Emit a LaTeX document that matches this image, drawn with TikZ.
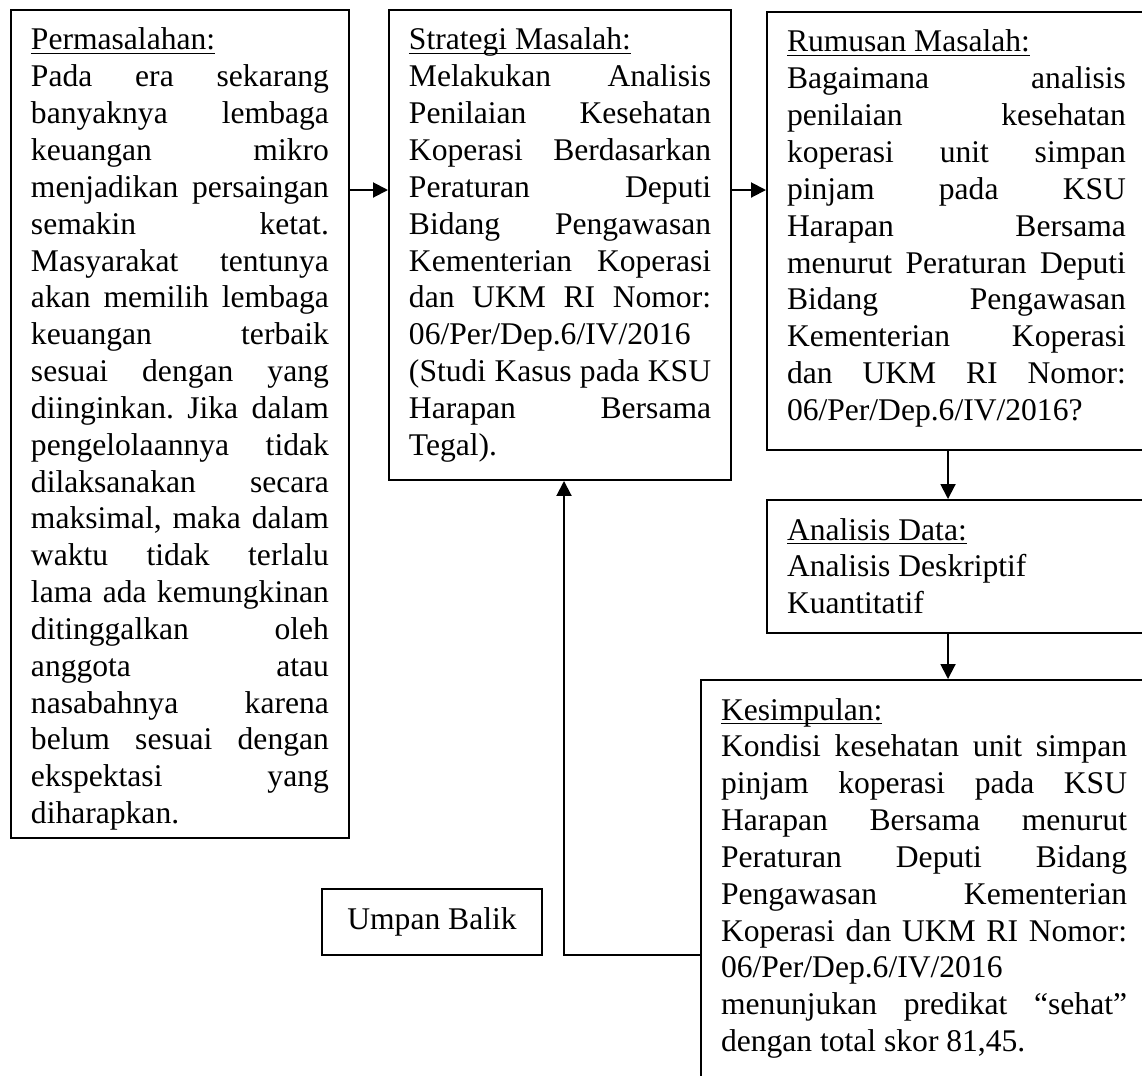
\documentclass[tikz,border=0pt]{standalone}
\usepackage{fontspec}
\setmainfont{Liberation Serif}
\usepackage{tikz}
\usetikzlibrary{arrows.meta}
\newcommand{\judul}[1]{\underline{\smash{#1}}\\}
\newcommand{\rata}[1]{\makebox[\hsize][s]{\spaceskip=0pt\xspaceskip=0pt\frenchspacing #1}\\}
\tikzset{
  px/.style={x=0.38pt, y=-0.38pt, font=\fontsize{12pt}{14pt}\selectfont},
  k box/.style={draw, line width=0.75pt, anchor=north west, align=left, inner xsep=7.6pt, inner ysep=2pt, text height=13.2pt,
    execute at begin node={\spaceskip=0pt\xspaceskip=0pt\frenchspacing}},
  k label/.style={draw, line width=0.75pt, inner sep=0pt, minimum width=83.6pt, minimum height=25.1pt},
  k arr/.style={-{Triangle[length=5.7pt,width=5.7pt]}, line width=0.75pt},
}

\begin{document}
\begin{tikzpicture}[px]
\useasboundingbox (0,0) rectangle (1142,1075);
\clip (0,0) rectangle (1142,1075);
\node[k box, text width=113.2pt, text depth=297.4pt] (perm) at (10,9) {\judul{Permasalahan:}\rata{Pada era sekarang}\rata{banyaknya lembaga}\rata{keuangan mikro}\rata{menjadikan persaingan}\rata{semakin ketat.}\rata{Masyarakat tentunya}\rata{akan memilih lembaga}\rata{keuangan terbaik}\rata{sesuai dengan yang}\rata{diinginkan. Jika dalam}\rata{pengelolaannya tidak}\rata{dilaksanakan secara}\rata{maksimal, maka dalam}\rata{waktu tidak terlalu}\rata{lama ada kemungkinan}\rata{ditinggalkan oleh}\rata{anggota atau}\rata{nasabahnya karena}\rata{belum sesuai dengan}\rata{ekspektasi yang}diharapkan.};
\node[k box, text width=114.8pt, text depth=161.4pt] (strat) at (388,9) {\judul{Strategi Masalah:}\rata{Melakukan Analisis}\rata{Penilaian Kesehatan}\rata{Koperasi Berdasarkan}\rata{Peraturan Deputi}\rata{Bidang Pengawasan}\rata{Kementerian Koperasi}\rata{dan UKM RI Nomor:}06/Per/Dep.6/IV/2016\\\rata{(Studi Kasus pada KSU}\rata{Harapan Bersama}Tegal).};
\node[k box, text width=128.8pt, text depth=149.2pt] (rum) at (766,11) {\judul{Rumusan Masalah:}\rata{Bagaimana analisis}\rata{penilaian kesehatan}\rata{koperasi unit simpan}\rata{pinjam pada KSU}\rata{Harapan Bersama}\rata{menurut Peraturan Deputi}\rata{Bidang Pengawasan}\rata{Kementerian Koperasi}\rata{dan UKM RI Nomor:}06/Per/Dep.6/IV/2016?};
\node[k box, text width=128.8pt, text depth=33.3pt] (ana) at (766,499) {\judul{Analisis Data:}Analisis Deskriptif\\Kuantitatif};
\node[k box, text width=154.3pt, text depth=142.8pt] (kes) at (700,679) {\judul{Kesimpulan:}\rata{Kondisi kesehatan unit simpan}\rata{pinjam koperasi pada KSU}\rata{Harapan Bersama menurut}\rata{Peraturan Deputi Bidang}\rata{Pengawasan Kementerian}\rata{Koperasi dan UKM RI Nomor:}06/Per/Dep.6/IV/2016\\\rata{menunjukan predikat “sehat”}dengan total skor 81,45.};
\node[k label] (ub) at (432,922) {Umpan Balik};
\coordinate (lv) at (0,190);
\coordinate (vx) at (948,0);
\coordinate (balik) at (564,955);
\draw[k arr] (perm.east |- lv) -- (strat.west |- lv);
\draw[k arr] (strat.east |- lv) -- (rum.west |- lv);
\draw[k arr] (rum.south -| vx) -- (ana.north -| vx);
\draw[k arr] (ana.south -| vx) -- (kes.north -| vx);
\draw[k arr] (kes.west |- balik) -- (balik) -- (strat.south -| balik);
\end{tikzpicture}
\end{document}
